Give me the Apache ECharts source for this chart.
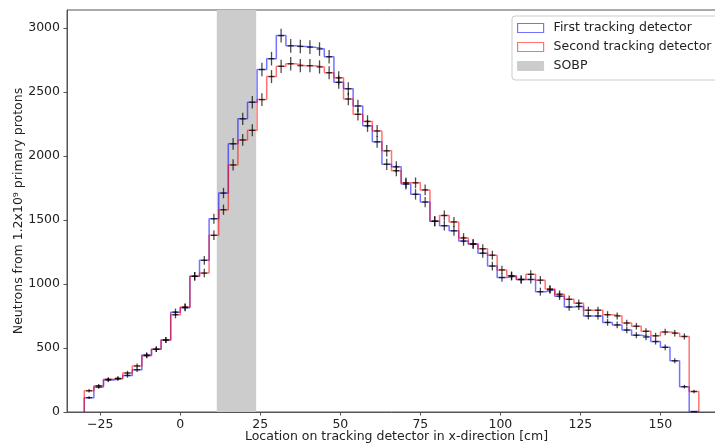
<!DOCTYPE html>
<html><head><meta charset="utf-8">
<script src="https://cdn.jsdelivr.net/npm/echarts@6/dist/echarts.min.js"></script>
<style>html,body{margin:0;padding:0;background:#fff}#c{width:715px;height:447px}</style>
</head><body><div id="c"></div>
<script>
const binStart = -30;
const binWidth = 3;
const firstDetector = [112,195,250,262,285,330,445,490,562,780,815,1060,1185,1510,1710,2095,
  2290,2420,2675,2760,2940,2860,2855,2850,2835,2775,2575,2525,2390,2235,2110,1935,
  1915,1780,1700,1640,1490,1455,1415,1335,1310,1240,1140,1050,1060,1035,1035,940,
  955,905,820,825,750,750,700,680,640,600,585,550,505,400,198,3];
const secondDetector = [166,205,255,262,305,360,440,490,562,760,820,1060,1085,1380,1580,1930,
  2125,2200,2440,2620,2700,2720,2705,2705,2695,2650,2610,2445,2325,2270,2195,2040,
  1885,1790,1790,1735,1490,1535,1485,1360,1315,1275,1225,1110,1065,1035,1075,1030,
  960,920,880,850,795,795,760,750,695,670,630,595,625,615,590,160];
const firstErr = [11,14,16,16,17,18,21,22,24,28,29,33,34,39,41,46,
  48,49,52,53,54,53,53,53,53,53,51,50,49,47,46,44,
  44,42,41,40,39,38,38,37,36,35,34,32,33,32,32,31,
  31,30,29,29,27,27,26,26,25,24,24,23,22,20,14,2];
const secondErr = [13,14,16,16,17,19,21,22,24,28,29,33,33,37,40,44,
  46,47,49,51,52,52,52,52,52,51,51,49,48,48,47,45,
  43,42,42,42,39,39,39,37,36,36,35,33,33,32,33,32,
  31,30,30,29,28,28,28,27,26,26,25,24,25,25,24,13];
const sobpRange = [11.4, 23.7];
const xTicks = [-25, 0, 25, 50, 75, 100, 125, 150];
const yTicks = [0, 500, 1000, 1500, 2000, 2500, 3000];
const names = ['First tracking detector', 'Second tracking detector', 'SOBP'];

const blue = 'rgba(0,0,255,0.55)';
const red = 'rgba(255,0,0,0.55)';
const font = 'DejaVu Sans';

function stepPoints(vals) {
  const pts = [[binStart, 0]];
  vals.forEach((v, i) => {
    const a = binStart + i * binWidth;
    pts.push([a, v], [a + binWidth, v]);
  });
  pts.push([binStart + vals.length * binWidth, 0]);
  return pts;
}
function errData(vals, errs) {
  return vals.map((v, i) => [binStart + (i + 0.5) * binWidth, v, errs[i]]);
}
function errRender(params, api) {
  const x = api.value(0), y = api.value(1), e = api.value(2);
  const t = api.coord([x, y + e]), b = api.coord([x, y - e]), m = api.coord([x, y]);
  const st = { stroke: 'rgba(0,0,0,0.7)', lineWidth: 1.3 };
  return { type: 'group', children: [
    { type: 'line', shape: { x1: t[0], y1: t[1], x2: b[0], y2: b[1] }, style: st },
    { type: 'line', shape: { x1: m[0] - 3, y1: m[1], x2: m[0] + 3, y2: m[1] }, style: st }
  ]};
}

const chart = echarts.init(document.getElementById('c'), null, { renderer: 'canvas' });
chart.setOption({
  animation: false,
  backgroundColor: '#fff',
  textStyle: { fontFamily: font },
  grid: { left: 67, top: 10, right: -11, bottom: 35, containLabel: false, outerBoundsMode: 'none',
    show: true, borderColor: '#555', borderWidth: 1, backgroundColor: 'transparent' },
  legend: {
    orient: 'vertical', left: 512, top: 16,
    padding: [5, 20, 7, 5], itemGap: 5, itemWidth: 26, itemHeight: 9,
    backgroundColor: 'rgba(255,255,255,0.8)', borderColor: '#ccc', borderWidth: 1, borderRadius: 3,
    textStyle: { fontFamily: font, fontSize: 12.5, color: '#222', padding: [0, 0, 0, 5], lineHeight: 14 },
    data: [
      { name: names[0], icon: 'rect', itemStyle: { color: '#fff', borderColor: blue, borderWidth: 1.2 } },
      { name: names[1], icon: 'rect', itemStyle: { color: '#fff', borderColor: red, borderWidth: 1.2 } },
      { name: names[2], icon: 'rect', itemStyle: { color: '#cccccc', borderColor: '#cccccc', borderWidth: 1 } }
    ]
  },
  xAxis: {
    type: 'value', min: -35.4, max: 170.5,
    name: 'Location on tracking detector in x-direction [cm]', nameLocation: 'middle', nameGap: 18,
    nameMoveOverlap: false,
    nameTextStyle: { fontFamily: font, fontSize: 12.5, color: '#222' },
    axisLine: { show: true, onZero: false, lineStyle: { color: '#555', width: 1 } },
    axisTick: { show: true, customValues: xTicks, length: 3.5, lineStyle: { color: '#555' } },
    axisLabel: { customValues: xTicks, margin: 6, fontFamily: font, fontSize: 12.5, color: '#222',
      formatter: v => String(v).replace('-', '\u2212') },
    splitLine: { show: false }
  },
  yAxis: {
    type: 'value', min: 0, max: 3140,
    name: 'Neutrons from 1.2x10\u2079 primary protons', nameLocation: 'middle', nameGap: 42,
    nameMoveOverlap: false,
    nameTextStyle: { fontFamily: font, fontSize: 12.5, color: '#222' },
    axisLine: { show: true, onZero: false, lineStyle: { color: '#555', width: 1 } },
    axisTick: { show: true, customValues: yTicks, length: 3.5, lineStyle: { color: '#555' } },
    axisLabel: { customValues: yTicks, margin: 7, fontFamily: font, fontSize: 12.5, color: '#222',
      formatter: v => String(v) },
    splitLine: { show: false }
  },
  series: [
    { name: names[2], type: 'custom', z: 1, itemStyle: { color: '#cccccc' },
      data: [sobpRange],
      encode: { x: [0, 1] },
      renderItem: (params, api) => {
        const a = api.coord([api.value(0), 0]), b = api.coord([api.value(1), 0]);
        const cs = params.coordSys;
        return { type: 'rect', shape: { x: a[0], y: cs.y, width: b[0] - a[0], height: cs.height }, style: { fill: '#cccccc' } };
      }
    },
    { name: names[0], type: 'line', z: 2, data: stepPoints(firstDetector), showSymbol: false, symbol: 'none',
      lineStyle: { color: blue, width: 1.5 }, itemStyle: { color: blue } },
    { name: names[1], type: 'line', z: 3, data: stepPoints(secondDetector), showSymbol: false, symbol: 'none',
      lineStyle: { color: red, width: 1.5 }, itemStyle: { color: red } },
    { type: 'custom', z: 4, data: errData(firstDetector, firstErr), encode: { x: 0, y: 1 }, renderItem: errRender },
    { type: 'custom', z: 4, data: errData(secondDetector, secondErr), encode: { x: 0, y: 1 }, renderItem: errRender }
  ]
});
</script></body></html>
